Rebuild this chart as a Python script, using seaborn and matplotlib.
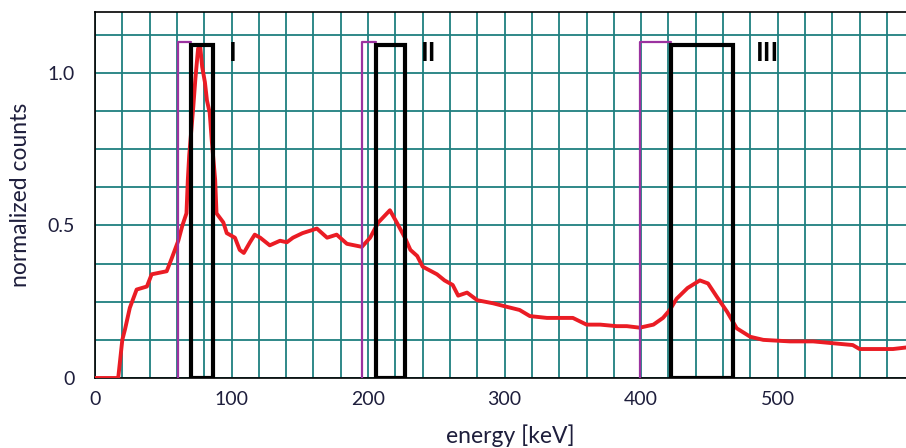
import matplotlib
matplotlib.use("Agg")
import matplotlib.pyplot as plt
import seaborn as sns
import numpy as np
from matplotlib.ticker import MultipleLocator, FixedLocator, FixedFormatter

# spectrum
energy = [0, 16, 17, 20, 22, 25.5, 30.5, 38, 41.5, 47, 52.5, 56, 61, 64, 67, 68, 69,
          72, 73.5, 75.5, 77, 78.5, 80.5, 82, 84, 85.5, 88, 89, 94, 96.5, 102.5, 106,
          109, 113.5, 117, 121, 128, 135.5, 140.5, 145, 152, 162.5, 170, 177, 184.5,
          195.5, 201.5, 207.5, 216, 221, 227, 231, 236, 240, 250.5, 256, 262, 266,
          272.5, 280, 291.5, 302, 311, 318.5, 331, 350, 360, 370, 382, 389.5, 399,
          409, 416, 421, 426, 434, 443, 449, 455.5, 463, 470, 480, 489.5, 509, 526,
          555, 560, 584.5, 594]
counts = [0, 0, 0.0, 0.125, 0.16, 0.23, 0.29, 0.30, 0.34, 0.345, 0.35, 0.39, 0.45,
          0.50, 0.54, 0.65, 0.73, 0.89, 0.98, 1.08, 1.09, 1.02, 0.97, 0.91, 0.87, 0.78,
          0.65, 0.54, 0.51, 0.475, 0.46, 0.42, 0.41, 0.445, 0.47, 0.46, 0.435, 0.45,
          0.445, 0.46, 0.475, 0.49, 0.46, 0.47, 0.44, 0.43, 0.46, 0.51, 0.55, 0.51,
          0.46, 0.42, 0.40, 0.365, 0.34, 0.32, 0.305, 0.27, 0.28, 0.255, 0.245, 0.233,
          0.223, 0.203, 0.197, 0.197, 0.175, 0.175, 0.17, 0.17, 0.165, 0.175, 0.197,
          0.223, 0.26, 0.295, 0.32, 0.31, 0.266, 0.217, 0.163, 0.135, 0.125, 0.12,
          0.12, 0.108, 0.095, 0.095, 0.1]

# energy windows
win_names = ["I", "II", "III"]
win_start = [61, 195.5, 399]      # magenta edge
box_left = [70.5, 206, 422]
box_right = [86.5, 227, 467]
win_top = 1.1
box_top = 1.092
label_x = [98, 239, 484]

sns.set_style("white")
plt.rcParams['font.family'] = ['Lato', 'DejaVu Sans']

txt = '#1e1e3c'
grid_col = '#1f7f7f'

fig = plt.figure(figsize=(9.06, 4.48), dpi=100)
ax = fig.add_axes([95/906, 70/448, 1 - 95/906, 366/448])

sns.lineplot(x=energy, y=counts, ax=ax, color='#ea1c24', lw=2.8, estimator=None,
             sort=False, zorder=3)

for i in range(len(win_names)):
    ax.plot([win_start[i], win_start[i], box_left[i]], [0, win_top, win_top],
            color='#9b32a0', lw=1.6, zorder=4)
    ax.plot([box_left[i], box_left[i], box_right[i], box_right[i], box_left[i]],
            [0, box_top, box_top, 0, 0], color='black', lw=3, zorder=5,
            solid_joinstyle='miter')
    ax.text(label_x[i], 1.066, win_names[i], fontsize=19, fontweight='bold',
            color='black', ha='left', va='center')

ax.set_xlim(0, 594)
ax.set_ylim(0, 1.2)

ax.xaxis.set_major_locator(FixedLocator([0, 100, 200, 300, 400, 500]))
ax.xaxis.set_minor_locator(MultipleLocator(20))
ax.yaxis.set_major_locator(FixedLocator([0, 0.5, 1.0]))
ax.yaxis.set_major_formatter(FixedFormatter(['0', '0.5', '1.0']))
ax.yaxis.set_minor_locator(MultipleLocator(0.125))

ax.grid(True, which='both', color=grid_col, lw=1.3, zorder=1)
ax.set_axisbelow(True)

ax.tick_params(axis='both', which='both', direction='out', length=7.5, width=1,
               color='black', labelsize=14, labelcolor=txt)
ax.tick_params(axis='x', pad=2)
ax.tick_params(axis='y', pad=7)

for s in ['left', 'bottom', 'top']:
    ax.spines[s].set_color('black')
    ax.spines[s].set_linewidth(1.2)
ax.spines['right'].set_visible(False)

ax.set_xlabel('energy [keV]', fontsize=16.5, color=txt, va='center')
ax.set_ylabel('normalized counts', fontsize=16.5, color=txt, va='center')
ax.xaxis.set_label_coords((510 - 95) / 811, (378 - 436) / 366)
ax.yaxis.set_label_coords((21 - 95) / 811, 0.5)

fig.savefig('out.png', dpi=100)
